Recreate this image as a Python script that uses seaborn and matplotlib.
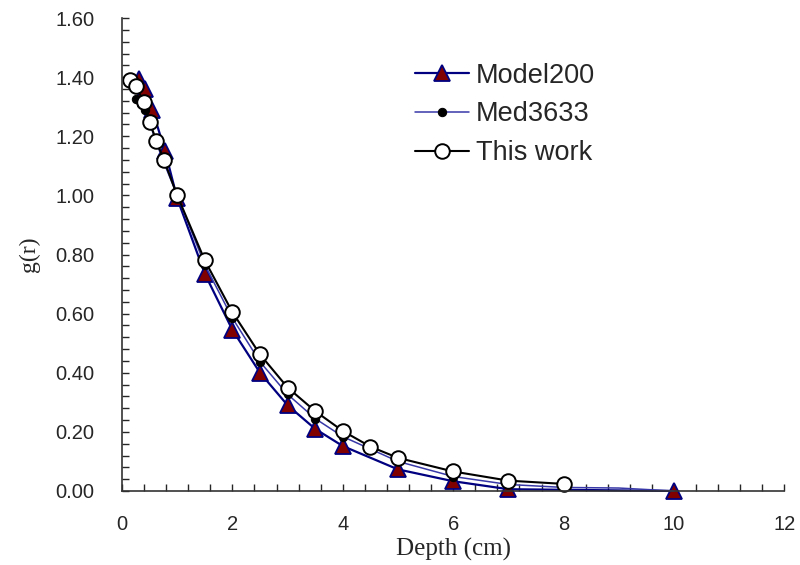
import numpy as np
import pandas as pd
import matplotlib
matplotlib.use('Agg')
import matplotlib.pyplot as plt
import seaborn as sns
from matplotlib.ticker import MultipleLocator, FormatStrFormatter

# data
model_x = [0.3, 0.42, 0.55, 0.78, 1.0, 1.5, 2.0, 2.5, 3.0, 3.5, 4.0, 5.0, 6.0, 7.0, 10.0]
model_y = [1.395, 1.36, 1.29, 1.15, 0.99, 0.735, 0.545, 0.40, 0.29, 0.21, 0.152, 0.073, 0.033, 0.006, 0.0]

med_x = [0.25, 0.35, 0.42, 0.6, 0.75, 1.0, 1.5, 2.0, 2.5, 3.0, 3.5, 4.0, 5.0, 6.0, 7.0, 8.0, 9.0, 10.0]
med_y = [1.325, 1.31, 1.29, 1.19, 1.115, 1.0, 0.765, 0.585, 0.437, 0.327, 0.245, 0.184, 0.100, 0.049, 0.022, 0.012, 0.010, 0.0]

this_x = [0.15, 0.25, 0.4, 0.5, 0.62, 0.76, 1.0, 1.5, 2.0, 2.5, 3.0, 3.5, 4.0, 4.5, 5.0, 6.0, 7.0, 8.0]
this_y = [1.39, 1.37, 1.315, 1.25, 1.185, 1.12, 1.00, 0.78, 0.605, 0.462, 0.35, 0.27, 0.203, 0.15, 0.112, 0.066, 0.035, 0.024]

sns.set_style('ticks')
plt.rcParams['font.family'] = ['Liberation Sans', 'DejaVu Sans']

fig = plt.figure(figsize=(8, 5.65), dpi=100)
ax = fig.add_axes([0.1525, 0.131, 0.828, 0.837])

sns.lineplot(x=model_x, y=model_y, ax=ax, color='#000080', lw=1.6,
             marker='^', markersize=11, markerfacecolor='#800000',
             markeredgecolor='#000080', markeredgewidth=1.3,
             label='Model200', sort=False, clip_on=False)
sns.lineplot(x=med_x, y=med_y, ax=ax, color='#3838a8', lw=1.1,
             marker='o', markersize=6, markerfacecolor='black',
             markeredgecolor='black', markevery=list(range(len(med_x) - 2)),
             label='Med3633', sort=False, clip_on=False)
sns.lineplot(x=this_x, y=this_y, ax=ax, color='black', lw=1.5,
             marker='o', markersize=10.5, markerfacecolor='white',
             markeredgecolor='black', markeredgewidth=1.4,
             label='This work', sort=False, clip_on=False)

ax.set_xlim(0, 12)
ax.set_ylim(0, 1.6)
ax.xaxis.set_major_locator(MultipleLocator(2))
ax.xaxis.set_minor_locator(MultipleLocator(0.4))
ax.yaxis.set_major_locator(MultipleLocator(0.2))
ax.yaxis.set_minor_locator(MultipleLocator(0.04))
ax.yaxis.set_major_formatter(FormatStrFormatter('%.2f'))
ax.tick_params(which='both', direction='in', length=5, width=1, labelsize=14.5)
ax.tick_params(axis='y', which='both', pad=20)
ax.tick_params(axis='x', which='both', pad=17)
for s in ['top', 'right']:
    ax.spines[s].set_visible(False)
for s in ['left', 'bottom']:
    ax.spines[s].set_color('#333333')
    ax.spines[s].set_linewidth(1.2)

ax.set_xlabel('Depth (cm)', family='Liberation Serif', fontsize=18, labelpad=3)
ax.set_ylabel('g(r)', family='Liberation Serif', fontsize=17, labelpad=11)

ax.legend(loc='upper left', bbox_to_anchor=(0.502, 0.913), bbox_transform=fig.transFigure,
          frameon=False, fontsize=19.5, handlelength=2.0, handletextpad=0.25,
          labelspacing=0.47, borderpad=0)

fig.savefig('out.png', dpi=100)
